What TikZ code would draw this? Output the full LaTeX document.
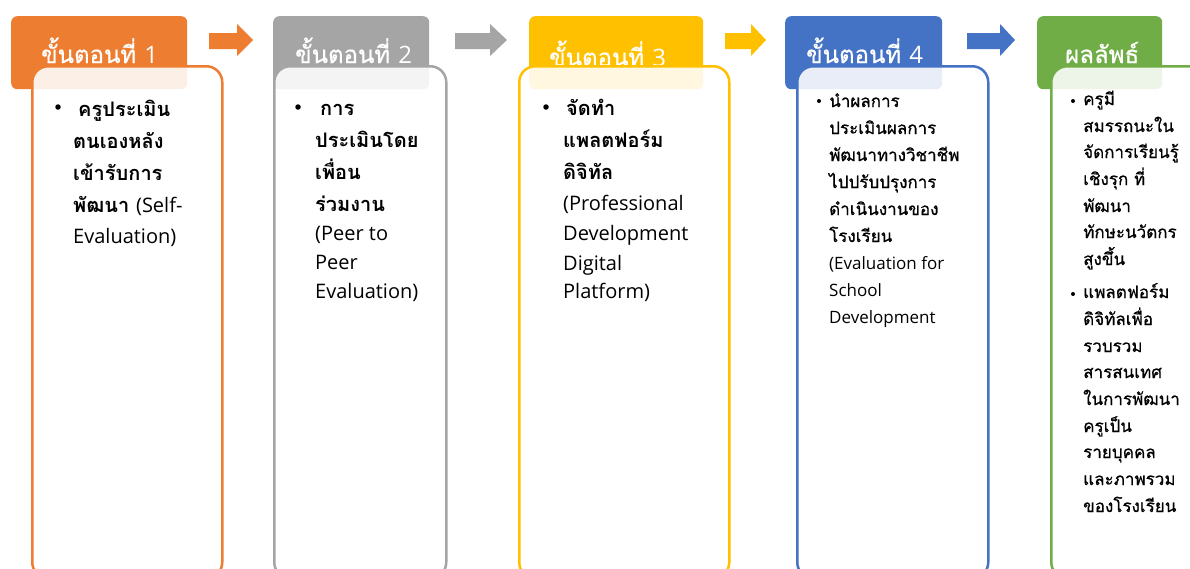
\documentclass[tikz,border=0pt]{standalone}
\usepackage{fontspec}
\setmainfont[Script=Thai]{Loma}
\newfontfamily\thaimed[Script=Thai, FakeBold=0.7]{Loma}
\newfontfamily\lat{Open Sans}
\definecolor{cO}{HTML}{ED7D31}
\definecolor{cG}{HTML}{A5A5A5}
\definecolor{cY}{HTML}{FFC000}
\definecolor{cB}{HTML}{4472C4}
\definecolor{cN}{HTML}{70AD47}
\tikzset{
  hdr/.style={rounded corners=6pt, inner sep=0pt, minimum height=73pt, anchor=north west, draw=none},
  htxt/.style={anchor=base west, inner sep=0pt, text=white, font=\thaimed\fontsize{24}{28}\selectfont},
  cbox/.style={rounded corners=16pt, inner sep=0pt, minimum height=512pt, anchor=north west, line width=2.5pt, fill=white, fill opacity=0.88, draw opacity=1},
  bigline/.style={anchor=base west, inner sep=0pt, font=\fontsize{20}{24}\selectfont\bfseries},
  smline/.style={anchor=base west, inner sep=0pt, font=\thaimed\fontsize{17}{20}\selectfont},
  bigbul/.style={circle, fill=black, inner sep=0pt, minimum size=5.5pt},
  smbul/.style={circle, fill=black, inner sep=0pt, minimum size=4pt},
}
\newcommand{\blockarrow}[4]{%
  \fill[#1] (#2,33) -- (#3,33) -- (#3,24) -- (#4,40) -- (#3,56) -- (#3,49) -- (#2,49) -- cycle;}
\begin{document}
\begin{tikzpicture}[x=1pt,y=-1pt]
\useasboundingbox (0,0) rectangle (1190,568);
% headers
\node[hdr, fill=cO, minimum width=176pt] (h1) at (11,16) {};
\node[hdr, fill=cG, minimum width=156pt] (h2) at (273,16) {};
\node[hdr, fill=cY, minimum width=174pt] (h3) at (529,16) {};
\node[hdr, fill=cB, minimum width=157pt] (h4) at (785,16) {};
\node[hdr, fill=cN, minimum width=125pt] (h5) at (1037,16) {};
\node[htxt] (ht1) at (41,63) {ขั้นตอนที่ {\lat 1}};
\node[htxt] (ht2) at (295,63) {ขั้นตอนที่ {\lat 2}};
\node[htxt] (ht3) at (549,66) {ขั้นตอนที่ {\lat 3}};
\node[htxt] (ht4) at (806,63) {ขั้นตอนที่ {\lat 4}};
\node[htxt] (ht5) at (1065,63) {ผลลัพธ์};
% arrows
\blockarrow{cO}{209}{237}{253}
\blockarrow{cG}{455}{490}{507}
\blockarrow{cY}{725}{751}{766}
\blockarrow{cB}{967}{1000}{1015}
% content boxes
\node[cbox, draw=cO, minimum width=190pt] (b1) at (31,65) {};
\node[cbox, draw=cG, minimum width=172pt] (b2) at (273,65) {};
\node[cbox, draw=cY, minimum width=210pt] (b3) at (518,65) {};
\node[cbox, draw=cB, minimum width=191pt] (b4) at (796,65) {};
\node[cbox, draw=cN, minimum width=160pt] (b5) at (1050,65) {};
% box 1
\node[bigbul] (u1) at (58,107) {};
\foreach \x/\y/\t [count=\i] in {78/116/{ครูประเมิน}, 73/148/{ตนเองหลัง}, 73/180/{เข้ารับการ}, 73/212/{พัฒนา {\lat\mdseries (Self-}}, 73/243/{{\lat\mdseries Evaluation)}}}
  \node[bigline] (l1-\i) at (\x,\y) {\t};
% box 2
\node[bigbul] (u2) at (298,107) {};
\foreach \x/\y/\t [count=\i] in {320/115/{การ}, 315/147/{ประเมินโดย}, 315/179/{เพื่อน}, 315/211/{ร่วมงาน}, 315/240/{{\lat\mdseries (Peer to}}, 315/269/{{\lat\mdseries Peer}}, 315/298/{{\lat\mdseries Evaluation)}}}
  \node[bigline] (l2-\i) at (\x,\y) {\t};
% box 3
\node[bigbul] (u3) at (546,107) {};
\foreach \x/\y/\t [count=\i] in {566/115/{จัดทำ}, 563/147/{แพลตฟอร์ม}, 563/179/{ดิจิทัล}, 563/210/{{\lat\mdseries (Professional}}, 563/240/{{\lat\mdseries Development}}, 563/270/{{\lat\mdseries Digital}}, 563/298/{{\lat\mdseries Platform)}}}
  \node[bigline] (l3-\i) at (\x,\y) {\t};
% box 4
\node[smbul] (u4) at (819,101) {};
\foreach \y/\t [count=\i] in {107/{นำผลการ}, 134/{ประเมินผลการ}, 161/{พัฒนาทางวิชาชีพ}, 188/{ไปปรับปรุงการ}, 215/{ดำเนินงานของ}, 242/{โรงเรียน}, 269/{{\lat (Evaluation for}}, 296/{{\lat School}}, 323/{{\lat Development}}}
  \node[smline] (l4-\i) at (829,\y) {\t};
% box 5
\node[smbul] (u5a) at (1073,101) {};
\foreach \y/\t [count=\i] in {105/{ครูมี}, 132/{สมรรถนะใน}, 158/{จัดการเรียนรู้}, 185/{เชิงรุก ที่}, 212/{พัฒนา}, 238/{ทักษะนวัตกร}, 265/{สูงขึ้น}}
  \node[smline] (l5-\i) at (1083,\y) {\t};
\node[smbul] (u5b) at (1073,294) {};
\foreach \y/\t [count=\i] in {298/{แพลตฟอร์ม}, 325/{ดิจิทัลเพื่อ}, 352/{รวบรวม}, 378/{สารสนเทศ}, 405/{ในการพัฒนา}, 432/{ครูเป็น}, 458/{รายบุคคล}, 485/{และภาพรวม}, 512/{ของโรงเรียน}}
  \node[smline] (l6-\i) at (1083,\y) {\t};
\end{tikzpicture}
\end{document}
